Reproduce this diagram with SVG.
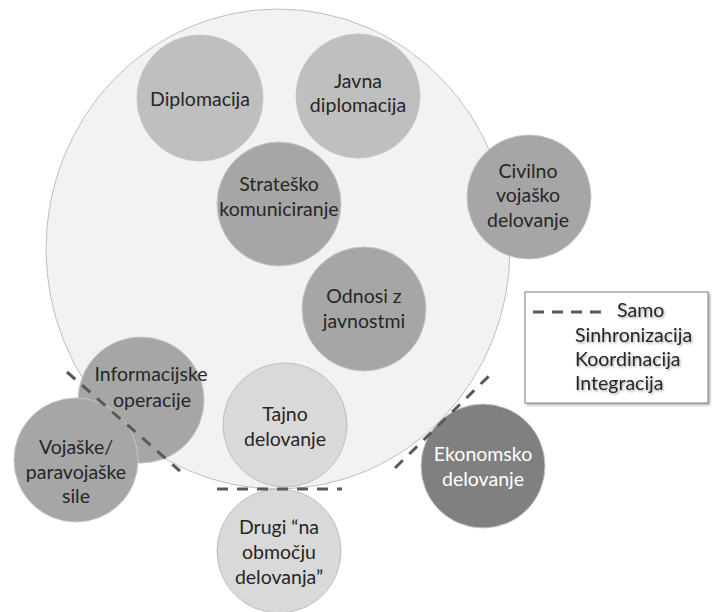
<svg xmlns="http://www.w3.org/2000/svg" width="712" height="612" viewBox="0 0 712 612">
  <defs>
    <filter id="softShadow" x="-10%" y="-10%" width="130%" height="140%">
      <feDropShadow dx="1.5" dy="1.5" stdDeviation="1.2" flood-color="#000" flood-opacity="0.35"/>
    </filter>
    <filter id="textShadow" x="-10%" y="-30%" width="130%" height="170%">
      <feDropShadow dx="1" dy="1.5" stdDeviation="1" flood-color="#000" flood-opacity="0.35"/>
    </filter>
  </defs>
  <style>
    text { font-family: Lato, "Open Sans", "Liberation Sans", sans-serif; font-size: 19.5px; fill: #262626; text-anchor: middle; }
    .node { stroke: #c4c4c4; stroke-width: 1; }
    .light { fill: #d9d9d9; stroke: #bdbdbd; }
    .mid { fill: #bfbfbf; }
    .dark { fill: #a6a6a6; }
    .darker { fill: #808080; }
    .white { fill: #ffffff; }
    .dash { fill: none; stroke: #595959; stroke-width: 3; stroke-dasharray: 11 9; }
    .legend-text { text-anchor: start; }
  </style>

  <!-- Area of operations -->
  <g id="area">
    <ellipse cx="278" cy="249" rx="232" ry="240" fill="#f2f2f2" stroke="#bfbfbf" stroke-width="1"/>
  </g>

  <g id="diplomacija">
    <circle class="node mid" cx="200" cy="98" r="63"/>
    <text x="200" y="106">Diplomacija</text>
  </g>

  <g id="javna-diplomacija">
    <circle class="node mid" cx="358" cy="96" r="62"/>
    <text x="358" y="88">Javna</text>
    <text x="358" y="112">diplomacija</text>
  </g>

  <g id="stratesko-komuniciranje">
    <circle class="node dark" cx="279" cy="204" r="62"/>
    <text x="279" y="191">Strateško</text>
    <text x="279" y="216">komuniciranje</text>
  </g>

  <g id="odnosi-z-javnostmi">
    <circle class="node dark" cx="364" cy="309" r="62"/>
    <text x="364" y="303">Odnosi z</text>
    <text x="364" y="328">javnostmi</text>
  </g>

  <g id="civilno-vojasko-delovanje">
    <circle class="node dark" cx="529" cy="197" r="62"/>
    <text x="528" y="178">Civilno</text>
    <text x="528" y="202">vojaško</text>
    <text x="528" y="227">delovanje</text>
  </g>

  <g id="informacijske-operacije">
    <circle class="node dark" cx="141" cy="400" r="63"/>
    <text x="151" y="381">Informacijske</text>
    <text x="152" y="407">operacije</text>
  </g>

  <g id="vojaske-paravojaske-sile">
    <circle class="node dark" cx="76" cy="460" r="62"/>
    <text x="76" y="454">Vojaške/</text>
    <text x="76" y="479">paravojaške</text>
    <text x="76" y="503">sile</text>
  </g>

  <g id="tajno-delovanje">
    <circle class="node light" cx="285" cy="425" r="62"/>
    <text x="285" y="421">Tajno</text>
    <text x="285" y="446">delovanje</text>
  </g>

  <g id="drugi-na-obmocju-delovanja">
    <circle class="node light" cx="279" cy="551" r="62"/>
    <text x="279" y="534">Drugi “na</text>
    <text x="279" y="559">območju</text>
    <text x="279" y="584">delovanja”</text>
  </g>

  <g id="ekonomsko-delovanje">
    <circle class="node darker" cx="483" cy="466" r="62"/>
    <text class="white" x="483" y="461">Ekonomsko</text>
    <text class="white" x="483" y="486">delovanje</text>
  </g>

  <!-- Boundary lines -->
  <g id="connectors">
    <line class="dash" x1="67" y1="372" x2="180" y2="471"/>
    <line class="dash" x1="217" y1="489" x2="342" y2="489"/>
    <line class="dash" x1="395" y1="468" x2="494" y2="371"/>
  </g>

  <!-- Legend -->
  <g id="legend">
    <rect x="525" y="292" width="183" height="111" fill="#ffffff" stroke="#7f7f7f" stroke-width="1" filter="url(#softShadow)"/>
    <line x1="533" y1="312" x2="602" y2="312" stroke="#595959" stroke-width="3" stroke-dasharray="11 8"/>
    <g filter="url(#textShadow)">
      <text class="legend-text" x="617" y="317">Samo</text>
      <text class="legend-text" x="575" y="342">Sinhronizacija</text>
      <text class="legend-text" x="575" y="366">Koordinacija</text>
      <text class="legend-text" x="575" y="390">Integracija</text>
    </g>
  </g>
</svg>
